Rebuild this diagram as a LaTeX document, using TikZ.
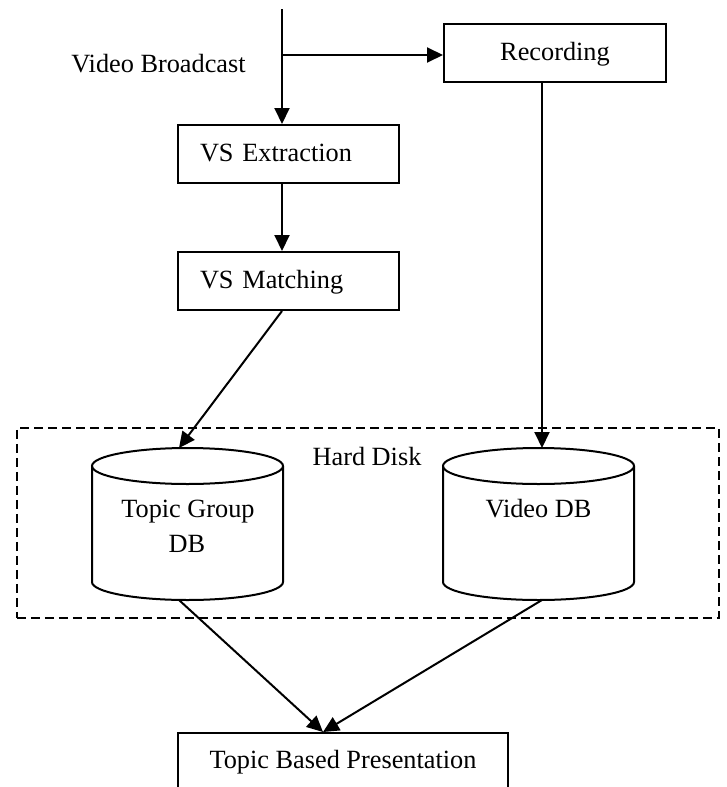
\documentclass[tikz,border=0pt]{standalone}
\usepackage{fontspec}
\setmainfont{Liberation Serif}
\usetikzlibrary{arrows.meta}
\begin{document}
\begin{tikzpicture}[x=1pt,y=-1pt,
  every node/.style={font=\fontsize{26.3}{35}\selectfont},
  lw/.style={line width=2pt},
  arr/.style={lw,-{Triangle[length=16pt,width=15pt]}},
  procbox/.style={draw,lw,inner xsep=22pt,inner ysep=0pt,text width=177pt,align=left,
    text height=36pt,text depth=22pt,anchor=north west},
  recbox/.style={draw,lw,minimum width=222pt,inner xsep=0pt,inner ysep=0pt,
    text height=36pt,text depth=22pt,anchor=north west},
  outbox/.style={draw,lw,minimum width=330pt,inner xsep=0pt,inner ysep=0pt,
    text height=35pt,text depth=40pt,anchor=north},
  hdbox/.style={draw,line width=1.7pt,dash pattern=on 9pt off 5pt,inner sep=0pt,anchor=north west},
  cyl/.style={lw},
  lbl/.style={inner sep=0pt,anchor=base}
]
\clip (0,0) rectangle (727,787);

% nodes
\node[procbox] (vsx) at (177,124) {VS Extraction};
\node[procbox] (vsm) at (177,251) {VS Matching};
\node[recbox] (rec) at (443,23) {Recording};
\node[outbox] (tbp) at (343,732) {Topic Based Presentation};
\node[hdbox,minimum width=702pt,minimum height=190pt] (hd) at (16,427) {};
\node[lbl] (vb) at (158.5,72) {Video Broadcast};
\node[lbl] (hdl) at (367,465) {Hard Disk};

% cylinders
\draw[cyl] (92,466) -- (92,582) arc[start angle=180,end angle=360,x radius=95.5pt,y radius=18pt] -- (283,466);
\draw[cyl] (187.5,466) ellipse [x radius=95.5pt,y radius=18pt];
\draw[cyl] (443,466) -- (443,582) arc[start angle=180,end angle=360,x radius=95.5pt,y radius=18pt] -- (634,466);
\draw[cyl] (538.5,466) ellipse [x radius=95.5pt,y radius=18pt];
\node[lbl] (tg1) at (188,517) {Topic Group};
\node[lbl] (tg2) at (187,552) {DB};
\node[lbl] (vdb) at (538.5,517) {Video DB};

% connector points
\coordinate (src) at (282,9);
\coordinate (split) at (282,55);
\coordinate (tgIn) at (179,448);
\coordinate (tgOut) at (179,600);
\coordinate (vdIn) at (542,448);
\coordinate (vdOut) at (542,600);
\coordinate (conv) at (323,732);

% connectors
\draw[arr] (src) -- (vsx.north -| src);
\draw[arr] (split) -- (rec.west |- split);
\draw[arr] (vsx.south -| src) -- (vsm.north -| src);
\draw[arr] (vsm.south -| src) -- (tgIn);
\draw[arr] (rec.south -| vdIn) -- (vdIn);
\draw[arr] (tgOut) -- (conv);
\draw[arr] (vdOut) -- (conv);
\end{tikzpicture}
\end{document}
